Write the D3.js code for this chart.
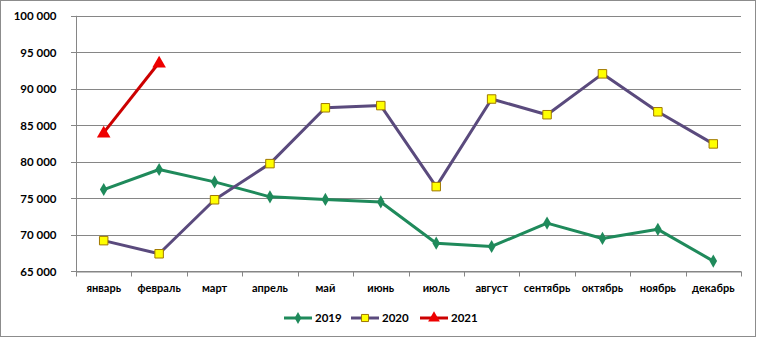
<!DOCTYPE html>
<html><head><meta charset="utf-8">
<script src="https://cdn.jsdelivr.net/npm/d3@7"></script>
<style>body{margin:0;background:#fff}svg{display:block}text{font-family:Lato,"Open Sans",sans-serif;font-weight:bold;fill:#000}</style>
</head><body><svg id="c" width="757" height="338"></svg>
<script>
const months = ["январь","февраль","март","апрель","май","июнь","июль","август","сентябрь","октябрь","ноябрь","декабрь"];
const s2019 = [76200,78950,77250,75200,74850,74500,68850,68400,71600,69500,70750,66400];
const s2020 = [69200,67400,74800,79750,87400,87700,76600,88600,86450,92050,86850,82450];
const s2021 = [84000,93600];
const yTicks = [65000,70000,75000,80000,85000,90000,95000,100000];
const seriesNames = ["2019","2020","2021"];
const colors = ["#1f8a5b","#5a4a7d","#cc0000"];

const svg = d3.select("#c");
svg.append("rect").attr("x",0.5).attr("y",0.5).attr("width",755).attr("height",336).attr("fill","#fff").attr("stroke","#8c8c8c");

const L=76,R=741,T=15.8,B=271.3;
const x = d3.scaleBand().domain(months).range([L,R]);
const y = d3.scaleLinear().domain([65000,100000]).range([B,T]);
const fmt = v => d3.format(",")(v).replace(/,/g," ");

// gridlines
svg.append("g").selectAll("line").data(yTicks).join("line")
  .attr("x1",L-5).attr("x2",R).attr("y1",d=>Math.round(y(d))+0.5).attr("y2",d=>Math.round(y(d))+0.5)
  .attr("stroke","#868686").attr("stroke-width",1);

// y axis
const ya = svg.append("g").attr("transform",`translate(${L+0.5},0)`)
  .call(d3.axisLeft(y).tickValues(yTicks).tickFormat(fmt).tickSize(0).tickPadding(20));
ya.select(".domain").attr("stroke","#868686").attr("d",`M0,${T}V${B}`);
ya.selectAll("text").attr("font-size","11.5px").attr("dy","0.35em");

// x axis
const xa = svg.append("g").attr("transform",`translate(0,${Math.round(B)+0.5})`)
  .call(d3.axisBottom(x).tickSize(0).tickPadding(13));
xa.select(".domain").attr("stroke","#868686");
xa.selectAll("text").attr("font-size","11px");
const bounds = months.map(m=>x(m)).concat([R]);
xa.selectAll("line.b").data(bounds).join("line").attr("class","b")
  .attr("x1",d=>Math.round(d)+0.5).attr("x2",d=>Math.round(d)+0.5).attr("y1",0).attr("y2",5).attr("stroke","#868686");

const cx = i => x(months[i]) + x.bandwidth()/2;
const line = d3.line().x((d,i)=>cx(i)).y(d=>y(d));
const data = [s2019,s2020,s2021];
data.forEach((s,k)=>{
  svg.append("path").datum(s).attr("d",line).attr("fill","none").attr("stroke",colors[k]).attr("stroke-width",3).attr("stroke-linejoin","round");
});
// markers
const diamond = d3.symbol().type(d3.symbolDiamond).size(50);
const square = d3.symbol().type(d3.symbolSquare).size(72);
const tri = d3.symbol().type(d3.symbolTriangle).size(80);
svg.append("g").selectAll("path").data(s2019).join("path").attr("d",diamond)
  .attr("transform",(d,i)=>`translate(${cx(i)},${y(d)})`).attr("fill",colors[0]);
svg.append("g").selectAll("path").data(s2020).join("path").attr("d",square)
  .attr("transform",(d,i)=>`translate(${cx(i)},${y(d)})`).attr("fill","#ffff00").attr("stroke","#a07800").attr("stroke-width",1);
svg.append("g").selectAll("path").data(s2021).join("path").attr("d",tri)
  .attr("transform",(d,i)=>`translate(${cx(i)},${y(d)+1})`).attr("fill","#ee0000");

// legend
const lg = svg.append("g");
const lx = [284,351,420];
seriesNames.forEach((n,k)=>{
  const g = lg.append("g").attr("transform",`translate(${lx[k]},318)`);
  g.append("line").attr("x1",0).attr("x2",28).attr("stroke",colors[k]).attr("stroke-width",3);
  const sym = k===0?d3.symbol().type(d3.symbolDiamond).size(40):k===1?d3.symbol().type(d3.symbolSquare).size(50):d3.symbol().type(d3.symbolTriangle).size(60);
  const p = g.append("path").attr("d",sym).attr("transform","translate(14,0)");
  if(k===0) p.attr("fill",colors[0]);
  else if(k===1) p.attr("fill","#ffff00").attr("stroke","#a07800");
  else p.attr("fill","#ee0000");
  g.append("text").attr("x",31).attr("dy","0.35em").attr("font-size","11.5px").text(n);
});
</script></body></html>
